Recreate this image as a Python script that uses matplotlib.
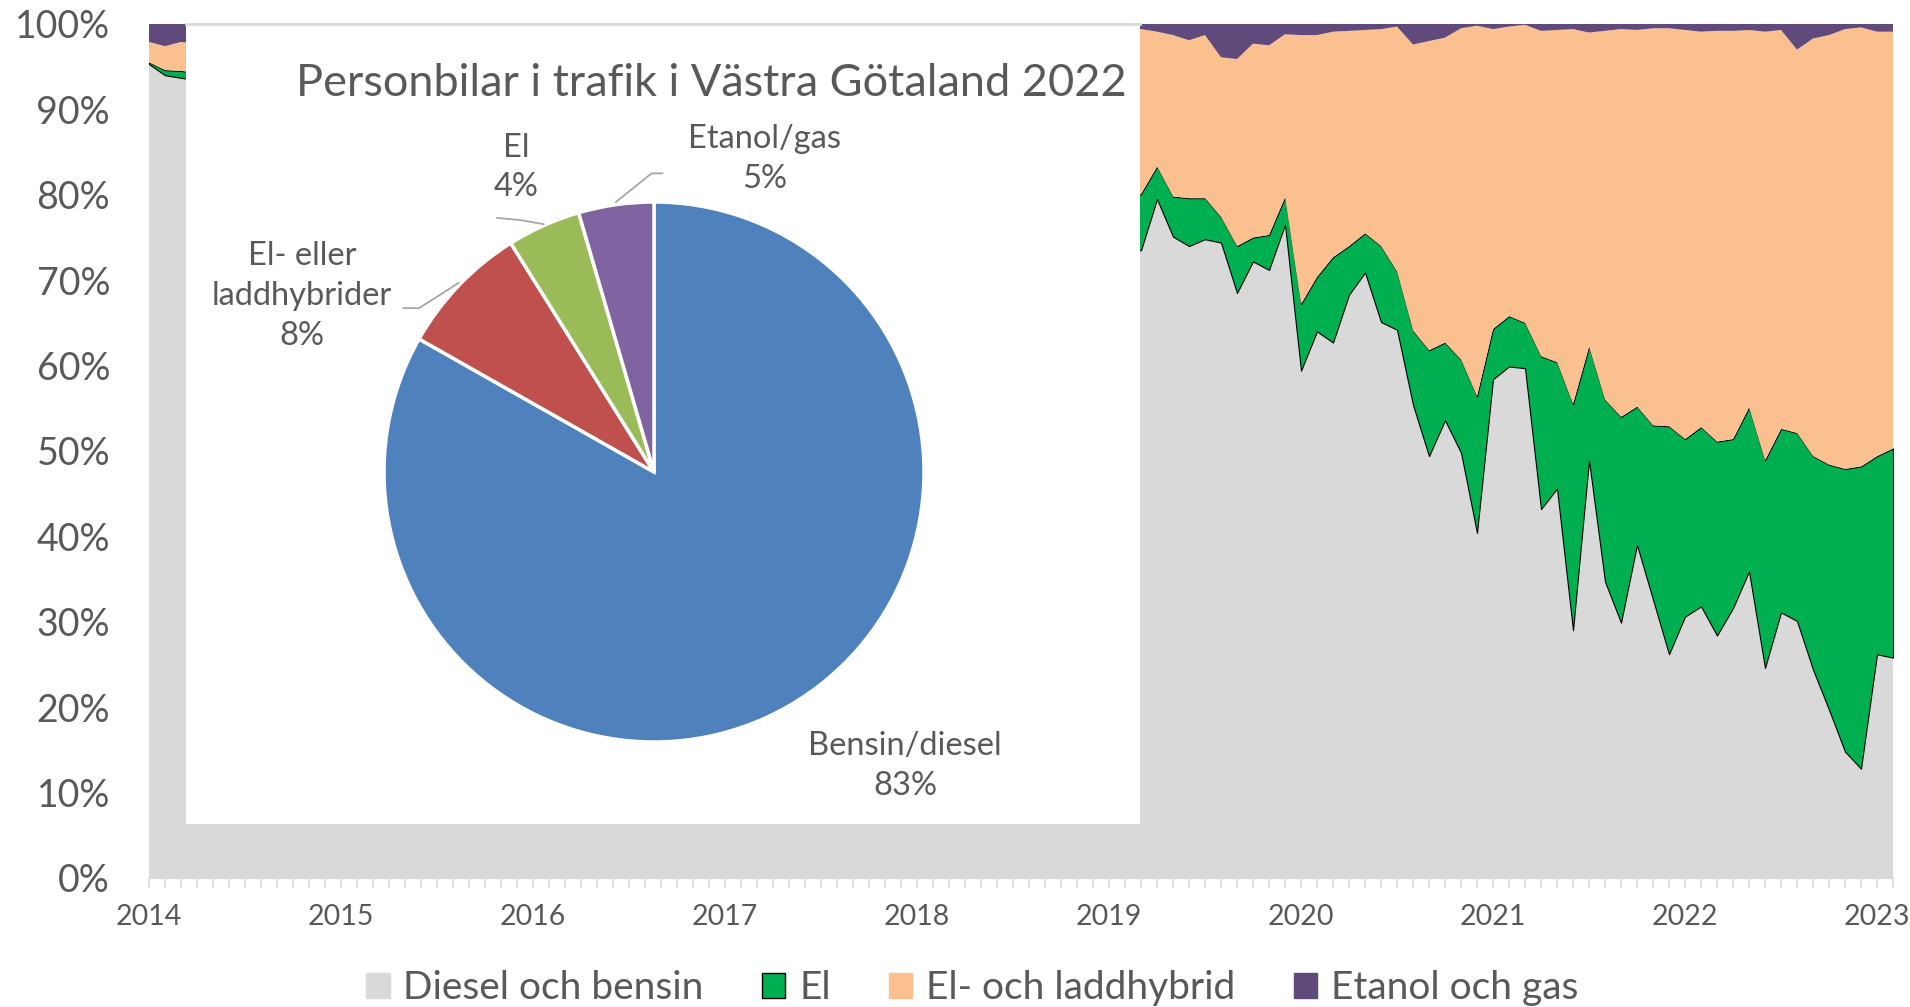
import matplotlib
matplotlib.use("Agg")
import matplotlib.pyplot as plt
from matplotlib.patches import Patch

plt.rcParams["font.family"] = ["Lato", "DejaVu Sans"]
TXT = "#595959"

# monthly shares (%), 2014-01 .. 2023-02
# months 2014-04 .. 2019-02 sit behind the pie inset, rough estimates only
diesel = [
    95.3, 94.0, 93.7, 93.4, 93.1, 92.8, 92.9, 92.3, 91.9, 91.6, 91.2, 90.8,
    90.9, 90.3, 89.8, 89.9, 89.2, 88.8, 88.9, 88.3, 87.7, 87.9, 87.2, 86.6,
    86.8, 86.1, 85.6, 85.8, 85.1, 84.7, 84.9, 84.1, 83.5, 83.7, 82.9, 82.3,
    82.5, 81.8, 81.2, 81.5, 80.7, 80.1, 80.4, 79.6, 79.0, 79.2, 78.3, 77.7,
    78.0, 77.4, 76.7, 76.9, 76.2, 75.6, 75.9, 75.0, 74.5, 74.8, 73.9, 73.1,
    74.2, 73.6, 73.5, 79.5, 75.1, 74.0, 74.8, 74.4, 68.5, 72.2, 71.2, 76.5,
    59.4, 64.0, 62.7, 68.3, 70.9, 65.1, 64.2, 55.4, 49.4, 53.6, 49.8, 40.4,
    58.4, 59.9, 59.7, 43.2, 45.6, 29.0, 48.9, 34.7, 29.9, 39.0, 32.6, 26.2,
    30.6, 31.8, 28.4, 31.6, 35.9, 24.6, 31.1, 30.1, 24.4, 19.7, 14.8, 12.8,
    26.2, 25.8,
]
el = [
    0.2, 0.6, 0.8, 0.9, 1.0, 1.0, 1.1, 1.2, 1.2, 1.3, 1.4, 1.5,
    1.4, 1.5, 1.7, 1.6, 1.8, 1.9, 1.8, 2.0, 2.2, 2.1, 2.3, 2.5,
    2.3, 2.4, 2.6, 2.5, 2.7, 2.8, 2.7, 2.9, 3.1, 3.0, 3.2, 3.4,
    3.2, 3.3, 3.5, 3.4, 3.6, 3.8, 3.7, 3.9, 4.1, 4.0, 4.2, 4.5,
    4.2, 4.3, 4.6, 4.5, 4.7, 4.9, 4.8, 5.0, 5.3, 5.1, 5.4, 5.8,
    5.2, 5.5, 6.6, 3.8, 4.7, 5.6, 4.8, 3.0, 5.5, 2.8, 4.1, 3.2,
    7.8, 6.4, 10.0, 5.7, 4.6, 8.9, 6.8, 8.7, 12.4, 9.1, 10.9, 16.0,
    5.9, 5.9, 5.3, 17.9, 14.8, 26.5, 13.3, 21.3, 24.1, 16.2, 20.4, 26.7,
    20.8, 21.0, 22.7, 19.8, 19.2, 24.3, 21.5, 22.0, 25.0, 28.7, 33.1, 35.4,
    23.2, 24.5,
]
hybrid = [
    2.4, 2.8, 3.4, 3.4, 3.5, 4.0, 3.7, 4.4, 4.7, 4.8, 5.3, 5.5,
    5.3, 6.0, 6.4, 6.2, 7.0, 7.2, 7.1, 7.7, 8.2, 7.9, 8.5, 9.0,
    8.8, 9.6, 10.0, 9.7, 10.4, 10.8, 10.5, 11.2, 11.8, 11.5, 12.2, 12.7,
    12.5, 13.3, 13.8, 13.4, 14.2, 14.7, 14.3, 15.0, 15.6, 15.3, 16.1, 16.5,
    16.3, 17.0, 17.5, 17.2, 17.8, 18.4, 18.0, 18.8, 19.2, 18.9, 19.6, 20.1,
    19.4, 19.8, 19.3, 15.8, 18.9, 18.5, 19.1, 18.7, 21.9, 22.7, 22.2, 19.1,
    31.5, 28.3, 26.4, 25.2, 23.8, 25.4, 28.7, 33.5, 36.2, 35.7, 38.8, 43.4,
    35.1, 33.9, 34.9, 38.1, 38.9, 43.9, 36.8, 43.2, 45.4, 44.1, 46.5, 46.6,
    47.9, 46.3, 48.1, 47.8, 44.2, 50.2, 46.7, 44.9, 48.9, 50.3, 51.5, 51.4,
    49.7, 48.8,
]
etanol = [
    2.1, 2.6, 2.1, 2.3, 2.4, 2.2, 2.3, 2.1, 2.2, 2.3, 2.1, 2.2,
    2.4, 2.2, 2.1, 2.3, 2.0, 2.1, 2.2, 2.0, 1.9, 2.1, 2.0, 1.9,
    2.1, 1.9, 1.8, 2.0, 1.8, 1.7, 1.9, 1.8, 1.6, 1.8, 1.7, 1.6,
    1.8, 1.6, 1.5, 1.7, 1.5, 1.4, 1.6, 1.5, 1.3, 1.5, 1.4, 1.3,
    1.5, 1.3, 1.2, 1.4, 1.3, 1.1, 1.3, 1.2, 1.0, 1.2, 1.1, 1.0,
    1.2, 1.1, 0.6, 0.9, 1.3, 1.9, 1.3, 3.9, 4.1, 2.3, 2.5, 1.2,
    1.3, 1.3, 0.9, 0.8, 0.7, 0.6, 0.3, 2.4, 2.0, 1.6, 0.5, 0.2,
    0.6, 0.3, 0.1, 0.8, 0.7, 0.6, 1.0, 0.8, 0.6, 0.7, 0.5, 0.5,
    0.7, 0.9, 0.8, 0.8, 0.7, 0.9, 0.7, 3.0, 1.7, 1.3, 0.6, 0.4,
    0.9, 0.9,
]
years = ["2014", "2015", "2016", "2017", "2018", "2019", "2020", "2021", "2022", "2023"]
area_names = ["Diesel och bensin", "El", "El- och laddhybrid", "Etanol och gas"]
area_colors = ["#D9D9D9", "#00B050", "#FAC090", "#604A7B"]

# pie inset, 2022
pie_names = ["Bensin/diesel", "El- eller\nladdhybrider", "El", "Etanol/gas"]
pie_values = [83.2, 7.9, 4.4, 4.5]
pie_labels = ["83%", "8%", "4%", "5%"]
pie_colors = ["#4F81BD", "#C0504D", "#9BBB59", "#8064A2"]

W, H = 1910, 1007
fig = plt.figure(figsize=(W / 100, H / 100), dpi=100)

def box(x0, y0, x1, y1):
    # pixel box (top-left origin) -> figure rect
    return [x0 / W, 1 - y1 / H, (x1 - x0) / W, (y1 - y0) / H]

ax = fig.add_axes(box(149, 24, 1893, 878))
x = list(range(len(diesel)))
polys = ax.stackplot(x, diesel, el, hybrid, etanol, colors=area_colors, edgecolor="none")
polys[1].set_edgecolor("black")
polys[1].set_linewidth(0.8)
ax.set_xlim(0, len(diesel) - 1)
ax.set_ylim(0, 100)
ax.set_yticks(range(0, 101, 10))
ax.set_yticklabels([f"{v}%" for v in range(0, 101, 10)])
ax.set_xticks(range(0, 12 * len(years), 12))
ax.set_xticklabels(years)
ax.set_xticks(range(len(diesel)), minor=True)
ax.tick_params(axis="y", length=0, pad=28, labelsize=27, labelcolor=TXT)
ax.tick_params(axis="x", which="both", length=7, width=1.2, color="#D9D9D9",
               labelsize=20.5, labelcolor=TXT, pad=12)
for s in ["left", "right", "top"]:
    ax.spines[s].set_visible(False)
ax.spines["bottom"].set_color("#D9D9D9")

handles = [Patch(facecolor=c, edgecolor=("black" if n == "El" else c), linewidth=1)
           for n, c in zip(area_names, area_colors)]
fig.legend(handles, area_names, loc="center", bbox_to_anchor=(0.509, 0.019), ncol=4,
           frameon=False, fontsize=28, labelcolor=TXT, handlelength=0.6, handleheight=0.6,
           handletextpad=0.35, columnspacing=1.5)

# inset with pie
inset = fig.add_axes(box(186, 24, 1140, 824))
inset.set_facecolor("white")
inset.set_xticks([])
inset.set_yticks([])
for s in ["left", "right", "bottom"]:
    inset.spines[s].set_visible(False)
inset.spines["top"].set_color("#D9D9D9")
inset.spines["top"].set_linewidth(2)

fig.text(711 / W, 1 - 83 / H, "Personbilar i trafik i Västra Götaland 2022",
         ha="center", va="center", fontsize=32.5, color=TXT)

pax = fig.add_axes(box(384, 202, 924, 742))
pax.pie(pie_values, colors=pie_colors, startangle=90, counterclock=False,
        wedgeprops=dict(edgecolor="white", linewidth=2.5))
pax.set_xlim(-1, 1)
pax.set_ylim(-1, 1)

label_pos = [(0.93, -1.089), (-1.304, 0.652), (-0.511, 1.128), (0.411, 1.159)]
for name, lab, (lx, ly) in zip(pie_names, pie_labels, label_pos):
    pax.text(lx, ly, name + "\n" + lab, ha="center", va="center", fontsize=23.5,
             color=TXT, linespacing=1.4)

leaders = [
    ([-0.928, -0.870, -0.724], [0.607, 0.607, 0.700]),
    ([-0.581, -0.495, -0.409], [0.941, 0.933, 0.918]),
    ([0.031, -0.009, -0.141], [1.106, 1.106, 1.0]),
]
for lx, ly in leaders:
    pax.plot(lx, ly, color="#A6A6A6", linewidth=1.3, clip_on=False)

fig.savefig("out.png", dpi=100)
